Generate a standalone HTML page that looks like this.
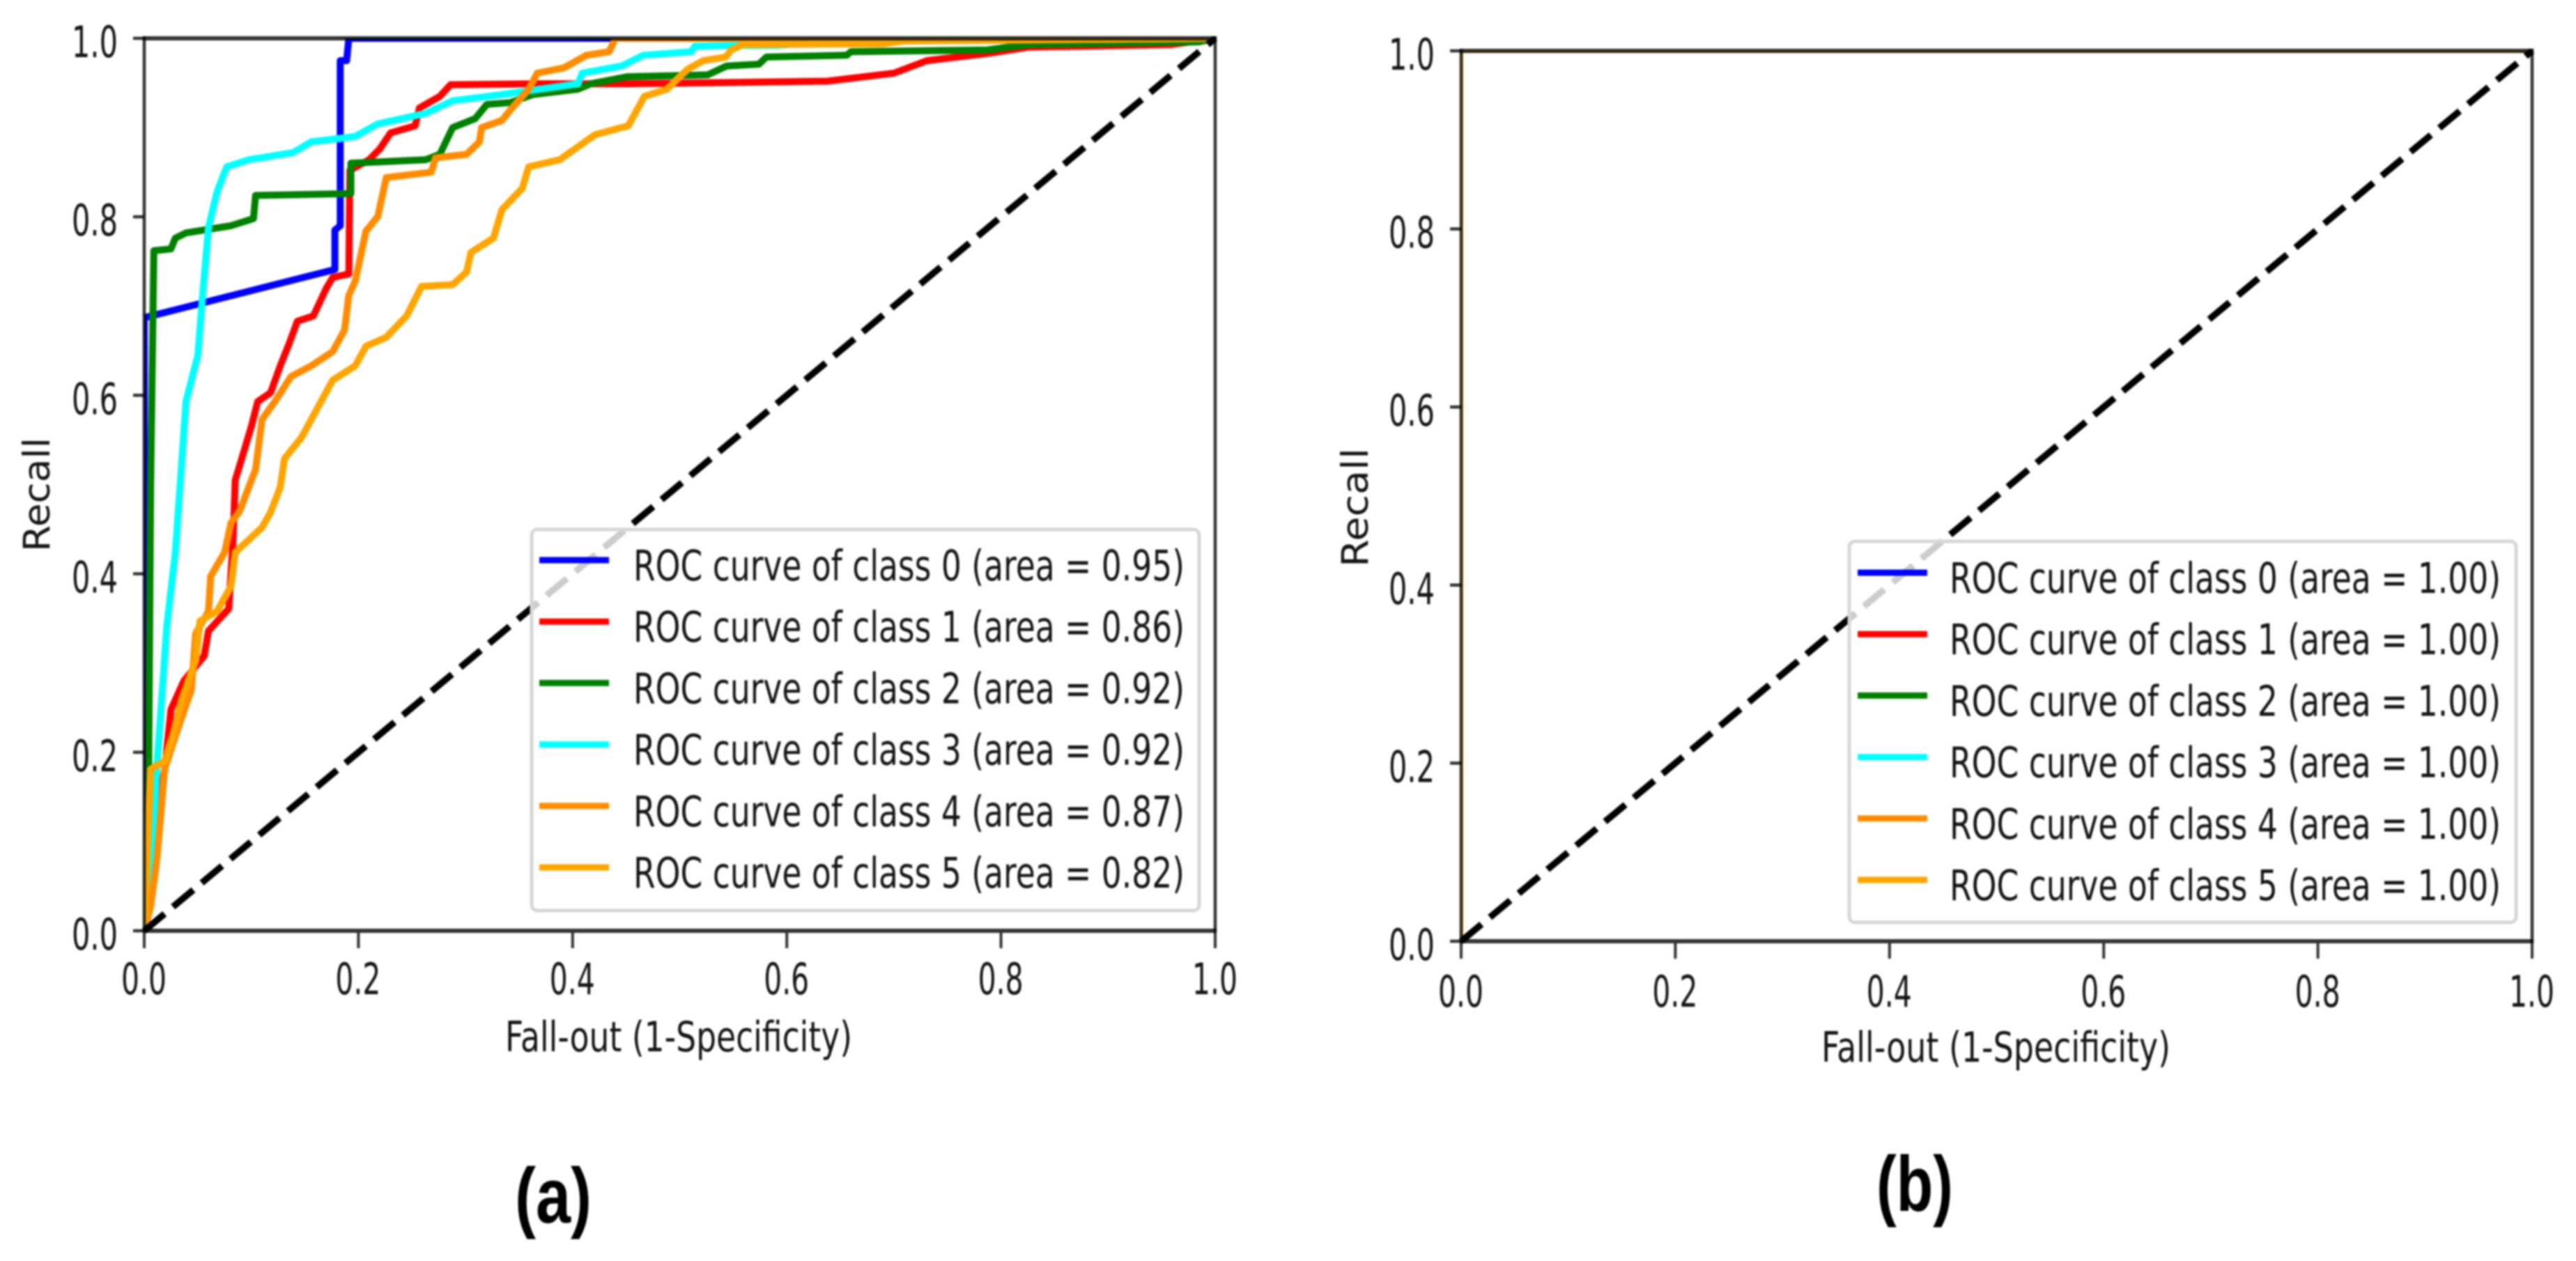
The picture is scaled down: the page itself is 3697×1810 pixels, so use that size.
<!DOCTYPE html>
<html lang="en">
<head>
<meta charset="utf-8">
<title>ROC curves</title>
<style>
html,body{margin:0;padding:0;background:#fff;width:3697px;height:1810px;overflow:hidden}
svg{display:block;filter:blur(1.4px)}
text{font-family:"DejaVu Sans","Liberation Sans",sans-serif;fill:#141414}
</style>
</head>
<body>
<svg id="figure" xmlns="http://www.w3.org/2000/svg" width="3697" height="1810" viewBox="0 0 3697 1810">
<rect x="0" y="0" width="3697" height="1810" fill="#fff"/>
</svg>
<script>
const tickValues = [0, 0.2, 0.4, 0.6, 0.8, 1];
const tickLabels = ["0.0", "0.2", "0.4", "0.6", "0.8", "1.0"];
const classNames = ["class 0", "class 1", "class 2", "class 3", "class 4", "class 5"];
const classColors = ["#0000ff", "#ff0000", "#008000", "#00ffff", "#ff8c00", "#ffa500"];
const areasA = ["0.95", "0.86", "0.92", "0.92", "0.87", "0.82"];
const areasB = ["1.00", "1.00", "1.00", "1.00", "1.00", "1.00"];
const diagonalFpr = [0, 1];
const diagonalTpr = [0, 1];

const a0Fpr = [0, 0, .178, .178, .183, .183, .189, .191, 1];
const a0Tpr = [0, .687, .741, .785, .79, .975, .975, 1, 1];
const a1Fpr = [0, .012, .019, .025, .037, .056, .06, .079, .083, .085, .091, .1, .106, .118, .127, .135, .143, .158, .17, .176, .191, .192, .21, .22, .23, .253, .257, .276, .286, .363, .451, .638, .7, .731, .787, .825, .959, 1];
const a1Tpr = [0, .14, .18, .248, .28, .308, .336, .361, .44, .505, .529, .565, .593, .603, .633, .657, .683, .689, .72, .732, .736, .852, .864, .876, .894, .902, .922, .935, .948, .949, .949, .952, .961, .975, .983, .99, .993, 1];
const a2Fpr = [0, .004, .006, .009, .025, .029, .039, .081, .102, .104, .193, .193, .263, .276, .288, .309, .32, .342, .363, .405, .417, .451, .526, .544, .574, .581, .656, .66, .787, .825, .985, 1];
const a2Tpr = [0, .15, .5, .762, .764, .776, .782, .79, .798, .824, .826, .86, .864, .87, .9, .91, .926, .928, .937, .943, .949, .957, .959, .969, .971, .979, .981, .985, .987, .993, .996, 1];
const a3Fpr = [0, .008, .012, .021, .029, .039, .05, .054, .06, .068, .077, .098, .139, .156, .197, .218, .263, .288, .334, .405, .409, .446, .466, .511, .514, .548, .59, .65, 1];
const a3Tpr = [0, .109, .187, .341, .424, .593, .645, .705, .788, .828, .856, .864, .872, .884, .89, .904, .916, .93, .937, .949, .961, .969, .981, .985, .991, .992, .992, .997, 1];
const a4Fpr = [0, .006, .012, .019, .031, .044, .048, .06, .062, .075, .081, .089, .104, .11, .122, .137, .156, .176, .187, .191, .197, .207, .218, .226, .268, .272, .301, .313, .315, .334, .342, .359, .367, .392, .413, .434, .44, 1];
const a4Tpr = [0, .027, .082, .181, .225, .27, .333, .358, .397, .424, .457, .47, .517, .573, .593, .621, .633, .649, .673, .712, .728, .784, .8, .844, .85, .866, .87, .884, .9, .908, .92, .943, .961, .967, .981, .985, 1, 1];
const a5Fpr = [0, .006, .019, .027, .035, .048, .052, .068, .081, .085, .11, .118, .127, .131, .147, .156, .176, .197, .207, .226, .245, .259, .288, .301, .305, .326, .334, .353, .359, .388, .421, .452, .467, .488, .507, .522, .543, .548, .559, .69, .71, 1];
const a5Tpr = [0, .181, .19, .22, .259, .303, .347, .358, .386, .424, .452, .469, .497, .529, .553, .573, .617, .633, .655, .665, .689, .722, .724, .738, .76, .776, .808, .832, .856, .864, .892, .902, .935, .943, .965, .975, .979, .987, .993, .994, .997, 1];

const b0Fpr = [0, 0, 1];
const b0Tpr = [0, 1, 1];
const b1Fpr = [0, 0, 1];
const b1Tpr = [0, 1, 1];
const b2Fpr = [0, 0, 1];
const b2Tpr = [0, 1, 1];
const b3Fpr = [0, 0, 1];
const b3Tpr = [0, 1, 1];
const b4Fpr = [0, 0, 1];
const b4Tpr = [0, 1, 1];
const b5Fpr = [0, 0, 1];
const b5Tpr = [0, 1, 1];

const seriesA = [[a0Fpr, a0Tpr], [a1Fpr, a1Tpr], [a2Fpr, a2Tpr], [a3Fpr, a3Tpr], [a4Fpr, a4Tpr], [a5Fpr, a5Tpr]];
const seriesB = [[b0Fpr, b0Tpr], [b1Fpr, b1Tpr], [b2Fpr, b2Tpr], [b3Fpr, b3Tpr], [b4Fpr, b4Tpr], [b5Fpr, b5Tpr]];

const NS = "http://www.w3.org/2000/svg";
const figure = document.getElementById("figure");

function make(parent, tag, attrs, content) {
  const el = document.createElementNS(NS, tag);
  for (const k in attrs) el.setAttribute(k, attrs[k]);
  if (content !== undefined) el.textContent = content;
  parent.appendChild(el);
  return el;
}

function drawPanel(p) {
  const sx = v => p.left + v * (p.right - p.left);
  const sy = v => p.bottom - v * (p.bottom - p.top);

  const g = make(figure, "g", {});
  
  

  const clip = make(g, "clipPath", { id: "clip-" + p.id });
  make(clip, "rect", { x: p.left, y: p.top, width: p.right - p.left, height: p.bottom - p.top });

  p.series.forEach((s, i) => {
    const d = s[0].map((x, j) => (j ? "L" : "M") + sx(x).toFixed(1) + " " + sy(s[1][j]).toFixed(1)).join(" ");
    const line = make(g, "path", { d: d, fill: "none", stroke: classColors[i], "stroke-width": p.lineWidth, "stroke-linejoin": "round", "clip-path": "url(#clip-" + p.id + ")" });
    
    
  });

  const diagonal = make(g, "line", { x1: sx(diagonalFpr[0]), y1: sy(diagonalTpr[0]), x2: sx(diagonalFpr[1]), y2: sy(diagonalTpr[1]), stroke: "#000", "stroke-width": 9.5, "stroke-dasharray": "38 15.7" });
  
  

  const spines = [
    [p.left, p.top - 3, p.left, p.bottom + 3, 4.5, "left"],
    [p.right, p.top - 3, p.right, p.bottom + 3, 4.5, "right"],
    [p.left - 2, p.top, p.right + 2, p.top, 6, "top"],
    [p.left - 2, p.bottom, p.right + 2, p.bottom, 6, "bottom"]
  ];
  spines.forEach(sp => {
    const spine = make(g, "line", { x1: sp[0], y1: sp[1], x2: sp[2], y2: sp[3], stroke: "#000", "stroke-opacity": 0.8, "stroke-width": sp[4] });
    
    
  });

  tickValues.forEach((v, i) => {
    const xt = make(g, "line", { x1: sx(v), y1: p.bottom + 3, x2: sx(v), y2: p.bottom + 25, stroke: "#000", "stroke-opacity": 0.8, "stroke-width": 4 });
    
    

    const xl = make(g, "text", { x: sx(v) - 33, y: p.bottom + p.xTickDrop, "font-size": 62, textLength: 65, lengthAdjust: "spacingAndGlyphs" }, tickLabels[i]);
    
    

    const yt = make(g, "line", { x1: p.left - 16, y1: sy(v), x2: p.left, y2: sy(v), stroke: "#000", "stroke-opacity": 0.8, "stroke-width": 4.5 });
    
    

    const yl = make(g, "text", { x: p.left - 104, y: sy(v) + 27, "font-size": 62, textLength: 66, lengthAdjust: "spacingAndGlyphs" }, tickLabels[i]);
    
    
  });

  const xTitle = make(g, "text", { x: p.xTitleX, y: p.bottom + 173, "font-size": 60, textLength: p.xTitleW, lengthAdjust: "spacingAndGlyphs" }, "Fall-out (1-Specificity)");
  
  

  const yTitle = make(g, "text", { transform: "translate(" + p.yTitleX + " " + p.yTitleY + ") rotate(-90)", "font-size": 53, textLength: p.yTitleW, lengthAdjust: "spacingAndGlyphs" }, "Recall");
  
  

  const legend = make(g, "g", {});
  
  

  const box = make(legend, "rect", { x: p.legX, y: p.legY, width: p.legW, height: p.legH, rx: 8, ry: 8, fill: "#fff", "fill-opacity": 0.8, stroke: "#d6d6d6", "stroke-width": 5 });
  
  

  classNames.forEach((name, i) => {
    const rowY = p.handleY + i * 88.2;
    const handle = make(legend, "line", { x1: p.handleX, y1: rowY, x2: p.handleX + 100, y2: rowY, stroke: classColors[i], "stroke-width": 9 });
    
    

    const label = make(legend, "text", { x: p.textX, y: rowY + 29, "font-size": 61, textLength: 791, lengthAdjust: "spacingAndGlyphs" }, "ROC curve of " + name + " (area = " + p.areas[i] + ")");
    
    
  });

  const caption = make(g, "text", { x: p.captionX, y: p.captionY, "font-size": 112, "font-weight": "bold", textLength: 110, lengthAdjust: "spacingAndGlyphs", style: "font-family:'Liberation Sans',sans-serif;fill:#000" }, p.caption);
  
  
}

drawPanel({
  id: "a", left: 207, right: 1744, top: 55, bottom: 1336, lineWidth: 10, series: seriesA, areas: areasA,
  xTickDrop: 91, xTitleX: 725, xTitleW: 498, yTitleX: 71, yTitleY: 792, yTitleW: 164,
  legX: 763, legY: 760, legW: 958, legH: 547, handleX: 774, handleY: 804, textX: 909,
  caption: "(a)", captionX: 739, captionY: 1755
});
drawPanel({
  id: "b", left: 2097, right: 3634, top: 73, bottom: 1351, lineWidth: 6, series: seriesB, areas: areasB,
  xTickDrop: 94, xTitleX: 2614, xTitleW: 501, yTitleX: 1963, yTitleY: 814, yTitleW: 171,
  legX: 2654, legY: 777, legW: 957, legH: 547, handleX: 2666, handleY: 822, textX: 2798,
  caption: "(b)", captionX: 2693, captionY: 1738
});
</script>
</body>
</html>
